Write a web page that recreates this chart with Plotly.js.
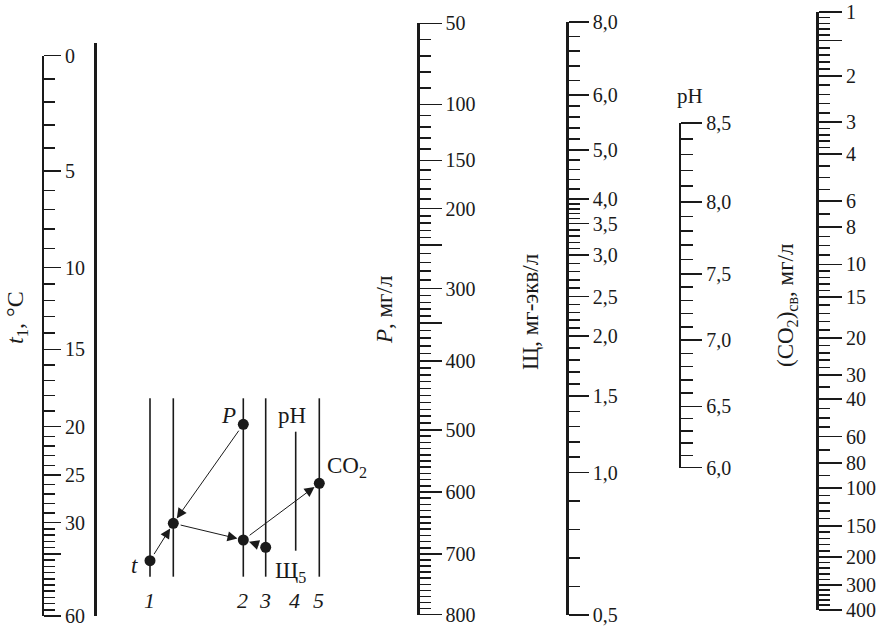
<!DOCTYPE html>
<html><head><meta charset="utf-8">
<script src="https://cdn.plot.ly/plotly-3.0.1.min.js"></script>
<style>html,body{margin:0;padding:0;background:#fff}</style>
</head><body><div id="chart" style="width:878px;height:631px"></div>
<script>
// ===== DATA: nomogram graduations (value, label, position as fraction of scale length from top) =====
const tValues = [0, 5, 10, 15, 20, 25, 30, 35, 60];
const tLabels = ['0', '5', '10', '15', '20', '25', '30', '', '60'];
const tGrad   = [0, 0.2058, 0.3784, 0.5240, 0.6621, 0.7484, 0.8335, 0.8893, 1];
const tMinorSteps = [[0, 35, 1], [35, 60, 2.5]];

const pValues = [50, 100, 150, 200, 250, 300, 350, 400, 500, 600, 700, 800];
const pLabels = ['50', '100', '150', '200', '', '300', '', '400', '500', '600', '700', '800'];
const pGrad   = [0, 0.1373, 0.2317, 0.3133, 0.3750, 0.4486, 0.5069, 0.5712, 0.6879, 0.7928, 0.8977, 1];
const pMinorSteps = [[50, 800, 10]];

const alkValues = [8.0, 6.0, 5.0, 4.0, 3.5, 3.0, 2.5, 2.0, 1.5, 1.0, 0.5];
const alkLabels = ['8,0', '6,0', '5,0', '4,0', '3,5', '3,0', '2,5', '2,0', '1,5', '1,0', '0,5'];
const alkGrad   = [0, 0.1231, 0.2159, 0.2985, 0.3398, 0.3929, 0.4629, 0.5295, 0.6307, 0.7597, 1];
const alkMinorSteps = [[6.0, 8.0, 0.4], [4.0, 6.0, 0.2], [0.5, 4.0, 0.1]];

const phValues = [8.5, 8.0, 7.5, 7.0, 6.5, 6.0];
const phLabels = ['8,5', '8,0', '7,5', '7,0', '6,5', '6,0'];
const phGrad   = [0, 0.2293, 0.4383, 0.6299, 0.8229, 1];
const phMinorSteps = [[6.0, 8.5, 0.1]];

const co2Values = [1, 1.5, 2, 3, 4, 6, 8, 10, 15, 20, 30, 40, 60, 80, 100, 150, 200, 300, 400];
const co2Labels = ['1', '', '2', '3', '4', '6', '8', '10', '15', '20', '30', '40', '60', '80', '100', '150', '200', '300', '400'];
const co2Grad   = [0, 0.048, 0.1070, 0.1839, 0.2375, 0.3161, 0.3595, 0.4222, 0.4766, 0.5452, 0.6070, 0.6472, 0.7099, 0.7542, 0.7960, 0.8595, 0.9114, 0.9582, 1];
const co2MinorSteps = [[1, 2, 0.1], [2, 4, 0.2], [4, 6, 0.5], [6, 8, 1], [8, 10, 0.5], [10, 20, 1], [20, 30, 2], [30, 60, 5], [60, 100, 10], [100, 200, 10], [200, 400, 20]];

// ===== DATA: key (inset) schematic =====
const keyLineX      = [20, 43.3, 113.3, 135.7, 165.7, 189.3];
const keyLineTop    = [221.7, 221.7, 221.7, 221.7, 188.3, 221.7];
const keyLineBottom = [43.3, 43.3, 43.3, 43.3, 69.3, 43.3];
const keyLineNum    = ['1', '', '2', '3', '4', '5'];
const keyDotName    = ['t', 'A', 'P', 'B', 'Alk', 'CO2'];
const keyDotLine    = [0, 1, 2, 2, 3, 5];
const keyDotY       = [59.3, 96.7, 195.7, 80, 72.7, 136.7];
const keyArrows     = [['t', 'A'], ['P', 'A'], ['A', 'B'], ['Alk', 'B'], ['B', 'CO2']];
const keyTexts      = ['<i>P</i>', 'pH', 'CO<sub>2</sub>', '<i>t</i>', 'Щ<sub>5</sub>'];
const keyTextX      = [98.3, 161.7, 217, 4, 160];
const keyTextY      = [205, 205, 153, 55, 48.3];

// ===== helpers =====
const W = 878, H = 631;
const INK = '#1a1a1a';
const SERIF = '"Liberation Serif", "Times New Roman", serif';

function gradPos(v, vals, grads) {
  for (let i = 0; i < vals.length - 1; i++) {
    const a = vals[i], b = vals[i + 1];
    if ((v - a) * (v - b) <= 0) {
      return grads[i] + (grads[i + 1] - grads[i]) * (v - a) / (b - a);
    }
  }
  return null;
}
function minorValues(steps, majors) {
  const out = [];
  steps.forEach(([a, b, s]) => {
    for (let k = 1; a + k * s < b - 1e-9; k++) {
      const v = Math.round((a + k * s) * 1000) / 1000;
      if (!majors.some(m => Math.abs(m - v) < 1e-9)) out.push(v);
    }
  });
  return out;
}
function scaleAxis(geo, vals, labels, grads, steps) {
  const minors = minorValues(steps, vals);
  return {
    domain: [1 - geo.bottom / H, 1 - geo.top / H],
    range: [1, 0],
    anchor: 'free', position: geo.x / W, side: 'right',
    showline: true, linewidth: geo.lw, linecolor: INK,
    ticks: 'outside', ticklen: geo.major, tickwidth: 1.5, tickcolor: INK,
    tickmode: 'array', tickvals: vals.map(v => gradPos(v, vals, grads)), ticktext: labels,
    tickfont: {family: SERIF, size: 20, color: INK},
    minor: {tickmode: 'array', tickvals: minors.map(v => gradPos(v, vals, grads)),
            ticks: 'outside', ticklen: geo.minor, tickwidth: 1.5, tickcolor: INK, showgrid: false},
    showgrid: false, zeroline: false, fixedrange: true, automargin: false
  };
}

// ===== traces =====
const traces = [];
['y2', 'y3', 'y4', 'y5', 'y6', 'y7'].forEach(ya => traces.push({
  x: [null], y: [null], xaxis: 'x', yaxis: ya, type: 'scatter', mode: 'markers',
  hoverinfo: 'skip', showlegend: false
}));

// key lines
const lx = [], ly = [];
keyLineX.forEach((x, i) => { lx.push(x, x, null); ly.push(keyLineTop[i], keyLineBottom[i], null); });
traces.push({x: lx, y: ly, xaxis: 'x2', yaxis: 'y8', type: 'scatter', mode: 'lines',
  line: {color: INK, width: 1.6}, hoverinfo: 'skip', showlegend: false});
// key dots
traces.push({x: keyDotLine.map(i => keyLineX[i]), y: keyDotY, xaxis: 'x2', yaxis: 'y8',
  type: 'scatter', mode: 'markers', marker: {color: INK, size: 11},
  hoverinfo: 'skip', showlegend: false});

// ===== annotations =====
const ann = [];
function dot(name) { const i = keyDotName.indexOf(name); return [keyLineX[keyDotLine[i]], keyDotY[i]]; }
keyArrows.forEach(([from, to]) => {
  const [x0, y0] = dot(from), [x1, y1] = dot(to);
  ann.push({xref: 'x2', yref: 'y8', axref: 'x2', ayref: 'y8', x: x1, y: y1, ax: x0, ay: y0,
    text: '', showarrow: true, arrowhead: 2, arrowsize: 2, arrowwidth: 1, arrowcolor: INK,
    standoff: 6, startstandoff: 6});
});
keyTexts.forEach((t, i) => ann.push({xref: 'x2', yref: 'y8', x: keyTextX[i], y: keyTextY[i],
  text: t, showarrow: false, font: {family: SERIF, size: 23, color: INK}}));
keyLineNum.forEach((t, i) => { if (t) ann.push({xref: 'x2', yref: 'y8', x: keyLineX[i] - 1, y: 20,
  text: '<i>' + t + '</i>', showarrow: false, font: {family: SERIF, size: 22, color: INK}}); });

function ptitle(px, py, text, size, angle) {
  ann.push({xref: 'paper', yref: 'paper', x: px / W, y: 1 - py / H, xanchor: 'center', yanchor: 'middle',
    text: text, textangle: angle, showarrow: false, font: {family: SERIF, size: size, color: INK}});
}
ptitle(17, 318, '<i>t</i><sub>1</sub>, °C', 24, -90);
ptitle(384, 310, '<i>P</i>, мг/л', 23, -90);
ptitle(531, 312, 'Щ, мг-экв/л', 23, -90);
ptitle(690, 96, 'pH', 21, 0);
ptitle(787, 306, '(CO<sub>2</sub>)<sub>св</sub>, мг/л', 23, -90);

// ===== layout =====
const layout = {
  width: W, height: H, margin: {l: 0, r: 0, t: 0, b: 0},
  paper_bgcolor: '#fff', plot_bgcolor: 'rgba(0,0,0,0)', showlegend: false,
  xaxis: {domain: [0, 1], range: [0, 1], visible: false, fixedrange: true},
  yaxis: {domain: [0, 1], range: [0, 1], visible: false, fixedrange: true},
  yaxis2: scaleAxis({x: 42.5, top: 55.7, bottom: 616, lw: 2.5, major: 17, minor: 11}, tValues, tLabels, tGrad, tMinorSteps),
  yaxis3: {domain: [1 - 616 / H, 1 - 43 / H], range: [1, 0], anchor: 'free', position: 94.5 / W,
           showline: true, linewidth: 3.5, linecolor: INK, ticks: '', showticklabels: false,
           showgrid: false, zeroline: false, fixedrange: true},
  yaxis4: scaleAxis({x: 417.5, top: 23.3, bottom: 614.5, lw: 3, major: 22, minor: 11}, pValues, pLabels, pGrad, pMinorSteps),
  yaxis5: scaleAxis({x: 567, top: 22, bottom: 615, lw: 2.8, major: 20, minor: 11}, alkValues, alkLabels, alkGrad, alkMinorSteps),
  yaxis6: scaleAxis({x: 679.5, top: 123, bottom: 467.5, lw: 2.8, major: 21, minor: 12}, phValues, phLabels, phGrad, phMinorSteps),
  yaxis7: scaleAxis({x: 817, top: 12, bottom: 610, lw: 3, major: 23, minor: 11}, co2Values, co2Labels, co2Grad, co2MinorSteps),
  xaxis2: {domain: [130 / W, 380 / W], range: [0, 250], anchor: 'y8', visible: false, fixedrange: true},
  yaxis8: {domain: [1 - 620 / H, 1 - 390 / H], range: [0, 230], anchor: 'x2', visible: false, fixedrange: true},
  annotations: ann
};

Plotly.newPlot('chart', traces, layout, {displayModeBar: false, staticPlot: true});
</script>
</body></html>
